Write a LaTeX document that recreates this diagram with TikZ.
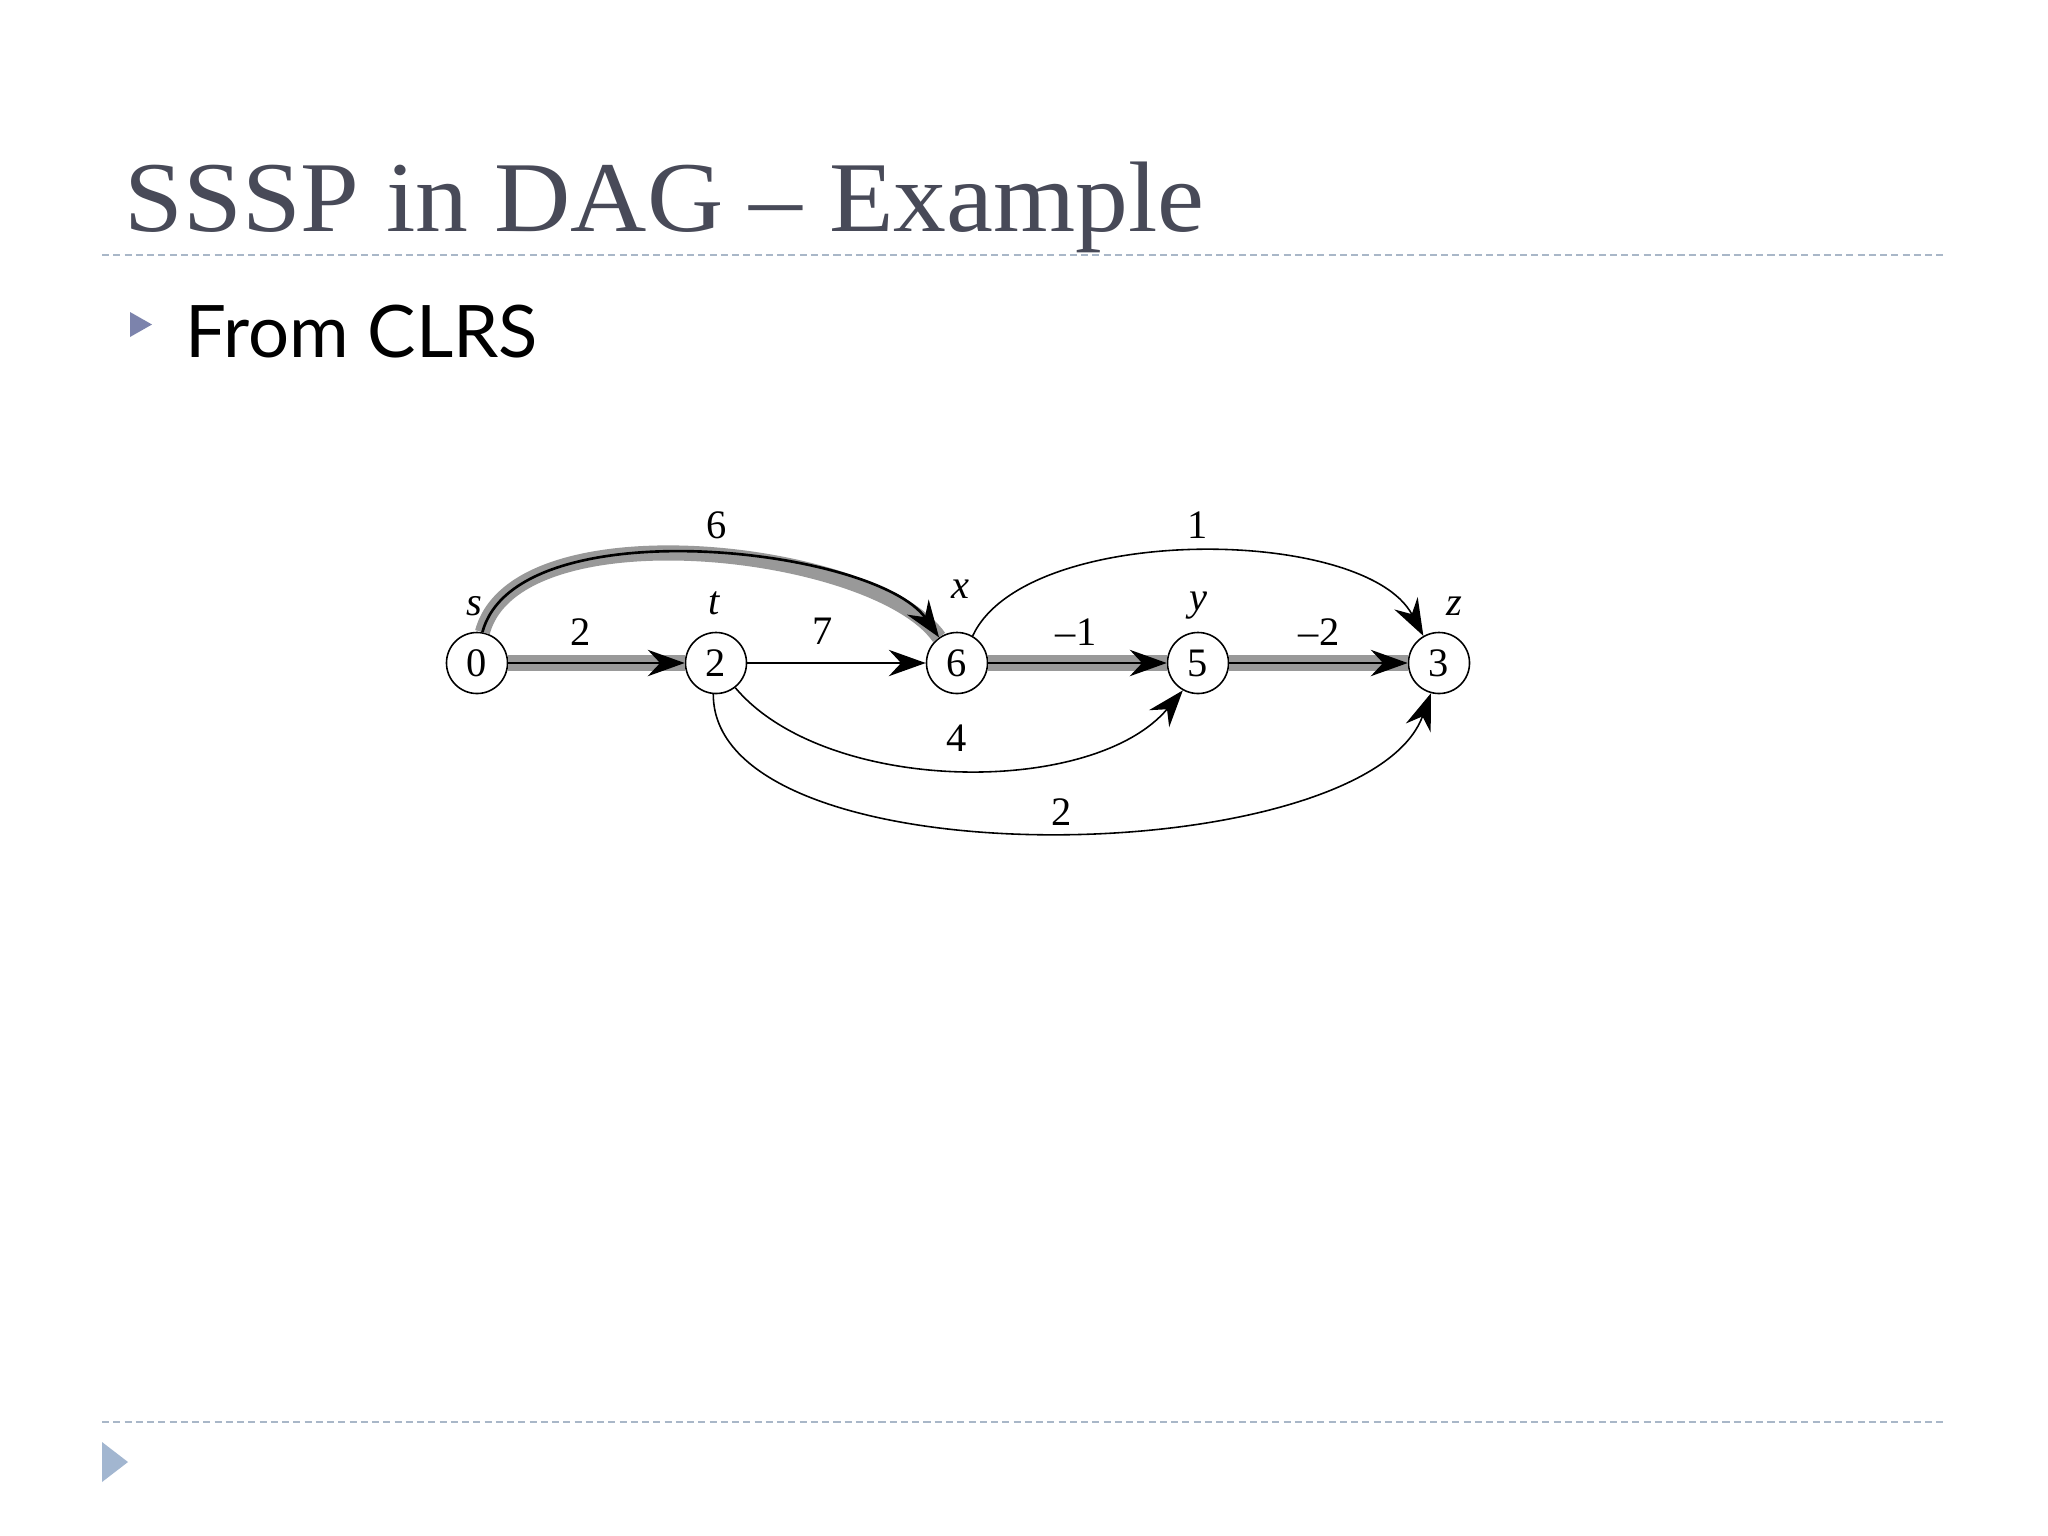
\documentclass[tikz,border=0pt]{standalone}
\usepackage{fontspec}
\usepackage{graphicx}
\setmainfont{Liberation Serif}
\newfontfamily\gillfont{Lato}
\usetikzlibrary{arrows.meta}
\definecolor{titlec}{HTML}{484A58}
\definecolor{bulletc}{HTML}{7C83AC}
\definecolor{rulec}{HTML}{A9B7C8}
\definecolor{navc}{HTML}{A2B6D0}
\definecolor{pathgray}{HTML}{999999}
\begin{document}
\begin{tikzpicture}[x=0.01cm,y=0.01cm,
  vert/.style={circle,draw,line width=0.45pt,minimum size=0.61cm,inner sep=0pt,font=\fontsize{11.5}{12}\selectfont},
  vlbl/.style={font=\fontsize{11.5}{12}\selectfont\itshape,inner sep=0pt},
  elbl/.style={font=\fontsize{11.5}{12}\selectfont,inner sep=0pt},
  arr/.style={-{Stealth[length=10.5pt,width=7.5pt,inset=3.5pt]}},
  thinedge/.style={arr,line width=0.45pt},
  shortedge/.style={arr,line width=0.75pt,preaction={draw=pathgray,line width=4.3pt,-}},
  rule/.style={draw=rulec,line width=0.5pt,dash pattern=on 2pt off 1.2pt},
]
\useasboundingbox[fill=white] (0,0) rectangle (2048,-1536);

% slide decoration
\node[anchor=base west,text=titlec,font=\fontsize{28.5}{34}\selectfont,inner sep=0pt] (title) at (124,-231) {\scalebox{1.054}[1]{SSSP in DAG – Example}};
\coordinate (r1a) at (102,-255);
\coordinate (r1b) at (1946,-255);
\draw[rule] (r1a) -- (r1b);
\coordinate (r2a) at (102,-1422);
\coordinate (r2b) at (1946,-1422);
\draw[rule] (r2a) -- (r2b);
\fill[bulletc] (130,-312) -- (152,-324.5) -- (130,-337) -- cycle;
\node[anchor=base west,font=\gillfont\fontsize{20.6}{25}\selectfont,inner sep=0pt] (sub) at (185,-357) {From CLRS};
\fill[navc] (102,-1442) -- (128,-1462) -- (102,-1482) -- cycle;

% graph
\node[vert] (s) at (477,-663) {0};
\node[vert] (t) at (716,-663) {2};
\node[vert] (x) at (957,-663) {6};
\node[vert] (y) at (1198,-663) {5};
\node[vert] (z) at (1439,-663) {3};

\node[vlbl] (ls) at (474,-606) {s};
\node[vlbl] (lt) at (714,-603) {t};
\node[vlbl] (lx) at (960,-589) {x};
\node[vlbl] (ly) at (1198,-606) {y};
\node[vlbl] (lz) at (1454,-606) {z};

\draw[shortedge] (s) -- (t);
\draw[thinedge] (t) -- (x);
\draw[shortedge] (x) -- (y);
\draw[shortedge] (y) -- (z);
\draw[shortedge] (s.80) to[out=75,in=125,out distance=1.3cm,in distance=1.1cm] (x.125);
\draw[thinedge] (x.60) to[out=65,in=118,out distance=1.25cm,in distance=1.25cm] (z.120);
\draw[thinedge] (t.-52) to[out=-50,in=-130,distance=1.4cm] (y.-119);
\draw[thinedge] (t.-95) to[out=-90,in=-110,distance=1.9cm] (z.-105);

\node[elbl] (w6) at (717,-525) {6};
\node[elbl] (wst) at (581,-632) {2};
\node[elbl] (w7) at (823,-631) {7};
\node[elbl] (w1) at (1198,-525) {1};
\node[elbl] (wxy) at (1076,-632) {–1};
\node[elbl] (wyz) at (1319,-632) {–2};
\node[elbl] (w4) at (957,-738) {4};
\node[elbl] (w2) at (1062,-812) {2};
\end{tikzpicture}
\end{document}
